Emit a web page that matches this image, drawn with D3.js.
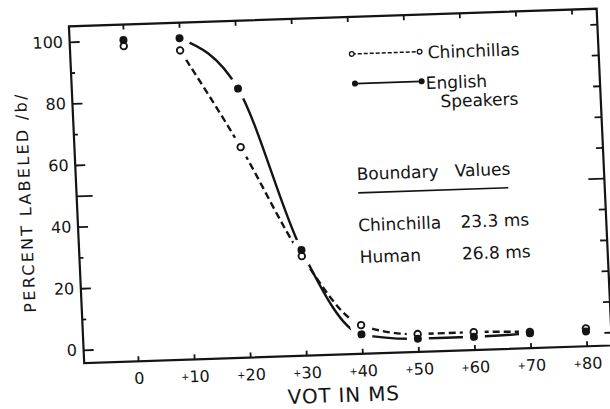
<!DOCTYPE html>
<html>
<head>
<meta charset="utf-8">
<script src="https://cdn.jsdelivr.net/npm/d3@7"></script>
<style>
  html, body { margin: 0; padding: 0; background: #fff; }
  svg { display: block; }
  text { font-family: "DejaVu Sans", sans-serif; fill: #141414; }
</style>
</head>
<body>
<svg id="chart" width="610" height="409"></svg>
<script>
// Voice onset time (ms) of each stimulus
const vot = [0, 10, 20, 30, 40, 50, 60, 70, 80];
// Percent of trials labelled /b/
const chinchillaPct = [98, 96, 64, 28, 5, 1.5, 1.5, 1, 1.5];
const englishPct = [100, 100, 83, 30, 2, 0, 0, 0.5, 0.5];
// Span covered by the fitted identification curves
const curveSpan = [10, 70];

const xTickValues = [0, 10, 20, 30, 40, 50, 60, 70, 80];
const xTickLabels = ["0", "+10", "+20", "+30", "+40", "+50", "+60", "+70", "+80"];
const yTickValues = [0, 20, 40, 60, 80, 100];
const yMinorTicks = [10, 30, 70, 90];
const yLongTick = [50];
const rightTicks = [0, 10, 20, 30, 40, 60, 70, 80, 90, 100];

const seriesNames = ["Chinchillas", "English", "Speakers"];
const boundaryTitle = ["Boundary", "Values"];
const boundaryNames = ["Chinchilla", "Human"];
const boundaryMs = [23.3, 26.8];

const width = 528, height = 337;
const svg = d3.select("#chart");
// The printed figure sits slightly tilted on the page
const g = svg.append("g")
  .attr("transform", "matrix(0.99944,-0.03343,0.04537,0.99903,68.93,26.41)");

const x = d3.scaleLinear().domain([-9.6, 84.5]).range([0, width]);
const y = d3.scaleLinear().domain([-4.3, 105]).range([height, 0]);

const ink = "#141414";

// ---- curves ----
const chin = vot.map((v, i) => ({ vot: v, pct: chinchillaPct[i] }));
const eng = vot.map((v, i) => ({ vot: v, pct: englishPct[i] }));
const inSpan = d => d.vot >= curveSpan[0] && d.vot <= curveSpan[1];
const line = d3.line().x(d => x(d.vot)).y(d => y(d.pct)).curve(d3.curveMonotoneX);

g.append("path").datum(eng.filter(inSpan))
  .attr("d", line).attr("fill", "none").attr("stroke", ink)
  .attr("stroke-width", 2.4);
g.append("path").datum(chin.filter(inSpan))
  .attr("d", line).attr("fill", "none").attr("stroke", ink)
  .attr("stroke-width", 2.4).attr("stroke-dasharray", "7,4");

// white gaps where the curves meet the data points
const all = chin.concat(eng);
g.append("g").attr("class", "halo").selectAll("circle").data(all).join("circle")
  .attr("cx", d => x(d.vot)).attr("cy", d => y(d.pct))
  .attr("r", 11).attr("fill", "#ffffff").attr("stroke", "none");

// ---- points ----
g.append("g").selectAll("circle").data(chin).join("circle")
  .attr("cx", d => x(d.vot)).attr("cy", d => y(d.pct))
  .attr("r", 3.3).attr("fill", "#fff").attr("stroke", ink).attr("stroke-width", 1.8);
g.append("g").selectAll("circle").data(eng).join("circle")
  .attr("cx", d => x(d.vot)).attr("cy", d => y(d.pct))
  .attr("r", 4).attr("fill", ink);

// ---- axes ----
function styleAxis(sel) {
  sel.select(".domain").remove();
  sel.selectAll(".tick line").attr("stroke", ink).attr("stroke-width", 1.8);
  sel.attr("font-family", null).attr("font-size", 16);
}

g.append("g")
  .call(d3.axisLeft(y).tickValues(yTickValues).tickSize(-10).tickPadding(6.6)
    .tickFormat(d3.format("d")))
  .call(styleAxis);
g.append("g")
  .call(d3.axisLeft(y).tickValues(yMinorTicks).tickSize(-4).tickFormat(""))
  .call(styleAxis);
g.append("g")
  .call(d3.axisLeft(y).tickValues(yLongTick).tickSize(-16).tickFormat(""))
  .call(styleAxis);

g.append("g").attr("transform", `translate(${width},0)`)
  .call(d3.axisRight(y).tickValues(rightTicks).tickSize(-7).tickFormat(""))
  .call(styleAxis);
g.append("g").attr("transform", `translate(${width},0)`)
  .call(d3.axisRight(y).tickValues(yLongTick).tickSize(-16).tickFormat(""))
  .call(styleAxis);

g.append("g")
  .call(d3.axisTop(x).tickValues(xTickValues).tickSize(-5).tickFormat(""))
  .call(styleAxis);

const gx = g.append("g").attr("transform", `translate(0,${height})`)
  .call(d3.axisBottom(x).tickValues(xTickValues).tickSize(-5))
  .call(styleAxis);
gx.selectAll(".tick text").each(function (d) {
  const lab = xTickLabels[xTickValues.indexOf(d)];
  const t = d3.select(this).text(null).attr("dy", null).attr("y", 22.7);
  if (lab.startsWith("+")) {
    t.append("tspan").attr("font-size", 10).attr("dy", -2).text("+");
    t.append("tspan").attr("dy", 2).text(lab.slice(1));
  } else {
    t.text(lab);
  }
});

// frame
g.append("rect").attr("x", 0).attr("y", 0).attr("width", width).attr("height", height)
  .attr("fill", "none").attr("stroke", ink).attr("stroke-width", 2.2);

// ---- axis titles ----
g.append("text")
  .attr("transform", "translate(-46,174.5) rotate(-90)")
  .attr("text-anchor", "middle").attr("font-size", 16).attr("letter-spacing", 2.3)
  .text("PERCENT LABELED /b/");
g.append("text")
  .attr("x", 257.8).attr("y", 384.6)
  .attr("text-anchor", "middle").attr("font-size", 20).attr("letter-spacing", 0.8)
  .text("VOT IN MS");

// ---- legend ----
const leg = g.append("g").attr("font-size", 17);
leg.append("line").attr("x1", 281.3).attr("x2", 349.2).attr("y1", 37).attr("y2", 37)
  .attr("stroke", ink).attr("stroke-width", 1.5).attr("stroke-dasharray", "4,2");
leg.selectAll("circle.o").data([281.3, 349.2]).join("circle").attr("class", "o")
  .attr("cx", d => d).attr("cy", 37).attr("r", 2.3)
  .attr("fill", "#fff").attr("stroke", ink).attr("stroke-width", 1.3);
leg.append("text").attr("x", 357.3).attr("y", 43.9).text(seriesNames[0]);

leg.append("line").attr("x1", 283.2).attr("x2", 349.9).attr("y1", 66.7).attr("y2", 66.7)
  .attr("stroke", ink).attr("stroke-width", 1.6);
leg.selectAll("circle.f").data([283.2, 349.9]).join("circle").attr("class", "f")
  .attr("cx", d => d).attr("cy", 66.7).attr("r", 3).attr("fill", ink);
leg.append("text").attr("x", 353.9).attr("y", 74.5).text(seriesNames[1]);
leg.append("text").attr("x", 367.7).attr("y", 93.3).text(seriesNames[2]);

// ---- boundary values ----
const bnd = g.append("g").attr("font-size", 17);
bnd.append("text").attr("x", 280.8).attr("y", 163.1).text(boundaryTitle[0]);
bnd.append("text").attr("x", 378.9).attr("y", 163.1).text(boundaryTitle[1]);
bnd.append("line").attr("x1", 281.5).attr("x2", 431.6).attr("y1", 176).attr("y2", 176)
  .attr("stroke", ink).attr("stroke-width", 1.6);
const rowY = [214.3, 246.2];
boundaryNames.forEach((name, i) => {
  bnd.append("text").attr("x", 280).attr("y", rowY[i]).text(name);
  bnd.append("text").attr("x", 382.3).attr("y", rowY[i])
    .text(boundaryMs[i].toFixed(1) + " ms");
});
</script>
</body>
</html>
